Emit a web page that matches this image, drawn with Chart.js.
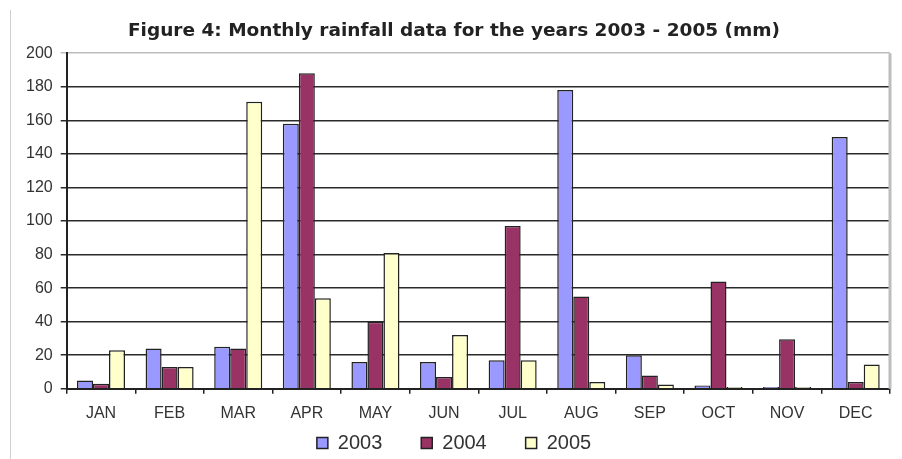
<!DOCTYPE html>
<html>
<head>
<meta charset="utf-8">
<script src="https://cdn.jsdelivr.net/npm/chart.js"></script>
<style>
  html, body { margin: 0; padding: 0; background: #fff; }
  #wrap { position: relative; width: 902px; height: 459px; }
  #edge { position: absolute; left: 10px; top: 10px; bottom: 0; width: 1px; background: #cfcfcf; }
</style>
</head>
<body>
<div id="wrap">
  <canvas id="chart" width="902" height="459"></canvas>
  <div id="edge"></div>
</div>
<script>
var months = ['JAN', 'FEB', 'MAR', 'APR', 'MAY', 'JUN', 'JUL', 'AUG', 'SEP', 'OCT', 'NOV', 'DEC'];
var rain2003 = [5, 24, 25, 158, 16, 16, 17, 178, 20, 2, 1, 150];
var rain2004 = [3, 13, 24, 188, 40, 7, 97, 55, 8, 64, 29.5, 4];
var rain2005 = [23, 13, 171, 54, 81, 32, 17, 4, 2.5, 1, 1, 14.5];

// right edge of the plot area, light grey like the excel original
var frame = {
    id: 'frame',
    beforeDatasetsDraw: function (chart) {
        var a = chart.chartArea, c = chart.ctx;
        c.save();
        c.strokeStyle = '#bdbdbd';
        c.lineWidth = 3;
        c.beginPath();
        c.moveTo(a.right, a.top);
        c.lineTo(a.right, a.bottom);
        c.stroke();
        c.restore();
    }
};

var ctx = document.getElementById('chart').getContext('2d');
var myChart = new Chart(ctx, {
    type: 'bar',
    data: {
        labels: months,
        datasets: [
            { label: '2003', data: rain2003, backgroundColor: '#9999ff' },
            { label: '2004', data: rain2004, backgroundColor: '#993366' },
            { label: '2005', data: rain2005, backgroundColor: '#ffffcc' }
        ]
    },
    options: {
        responsive: false,
        animation: false,
        layout: { padding: { left: 18, right: 12, top: 0, bottom: -4 } },
        datasets: {
            bar: {
                borderColor: '#222',
                borderWidth: 1.5,
                categoryPercentage: 0.7,
                barPercentage: 1.0
            }
        },
        plugins: {
            title: {
                display: true,
                text: 'Figure 4: Monthly rainfall data for the years 2003 - 2005 (mm)',
                color: '#222',
                font: { family: 'DejaVu Sans', size: 18.5, weight: 'bold' },
                padding: { top: 20, bottom: 11 }
            },
            legend: {
                position: 'bottom',
                labels: {
                    color: '#333',
                    boxWidth: 11,
                    boxHeight: 11,
                    padding: 0,
                    font: { family: 'Liberation Sans', size: 20 },
                    // wider gaps between items without extra height
                    generateLabels: function (chart) {
                        var items = Chart.defaults.plugins.legend.labels.generateLabels(chart);
                        items.forEach(function (it, i) {
                            if (i < items.length - 1) it.text += '       ';
                        });
                        return items;
                    }
                }
            },
            tooltip: { enabled: false }
        },
        scales: {
            x: {
                grid: { drawOnChartArea: false, color: '#222', tickLength: 5, lineWidth: 1.5 },
                border: { color: '#222', width: 2 },
                ticks: { color: '#333', padding: 10, font: { family: 'Liberation Sans', size: 16 } }
            },
            y: {
                min: 0,
                max: 200,
                ticks: { stepSize: 20, color: '#333', padding: 8, font: { family: 'Liberation Sans', size: 16 } },
                grid: {
                    color: function (c) { return c.tick && c.tick.value === 200 ? '#bdbdbd' : '#2a2a2a'; },
                    lineWidth: 1.5,
                    tickLength: 6
                },
                border: { color: '#222', width: 2 }
            }
        }
    },
    plugins: [frame]
});
</script>
</body>
</html>
